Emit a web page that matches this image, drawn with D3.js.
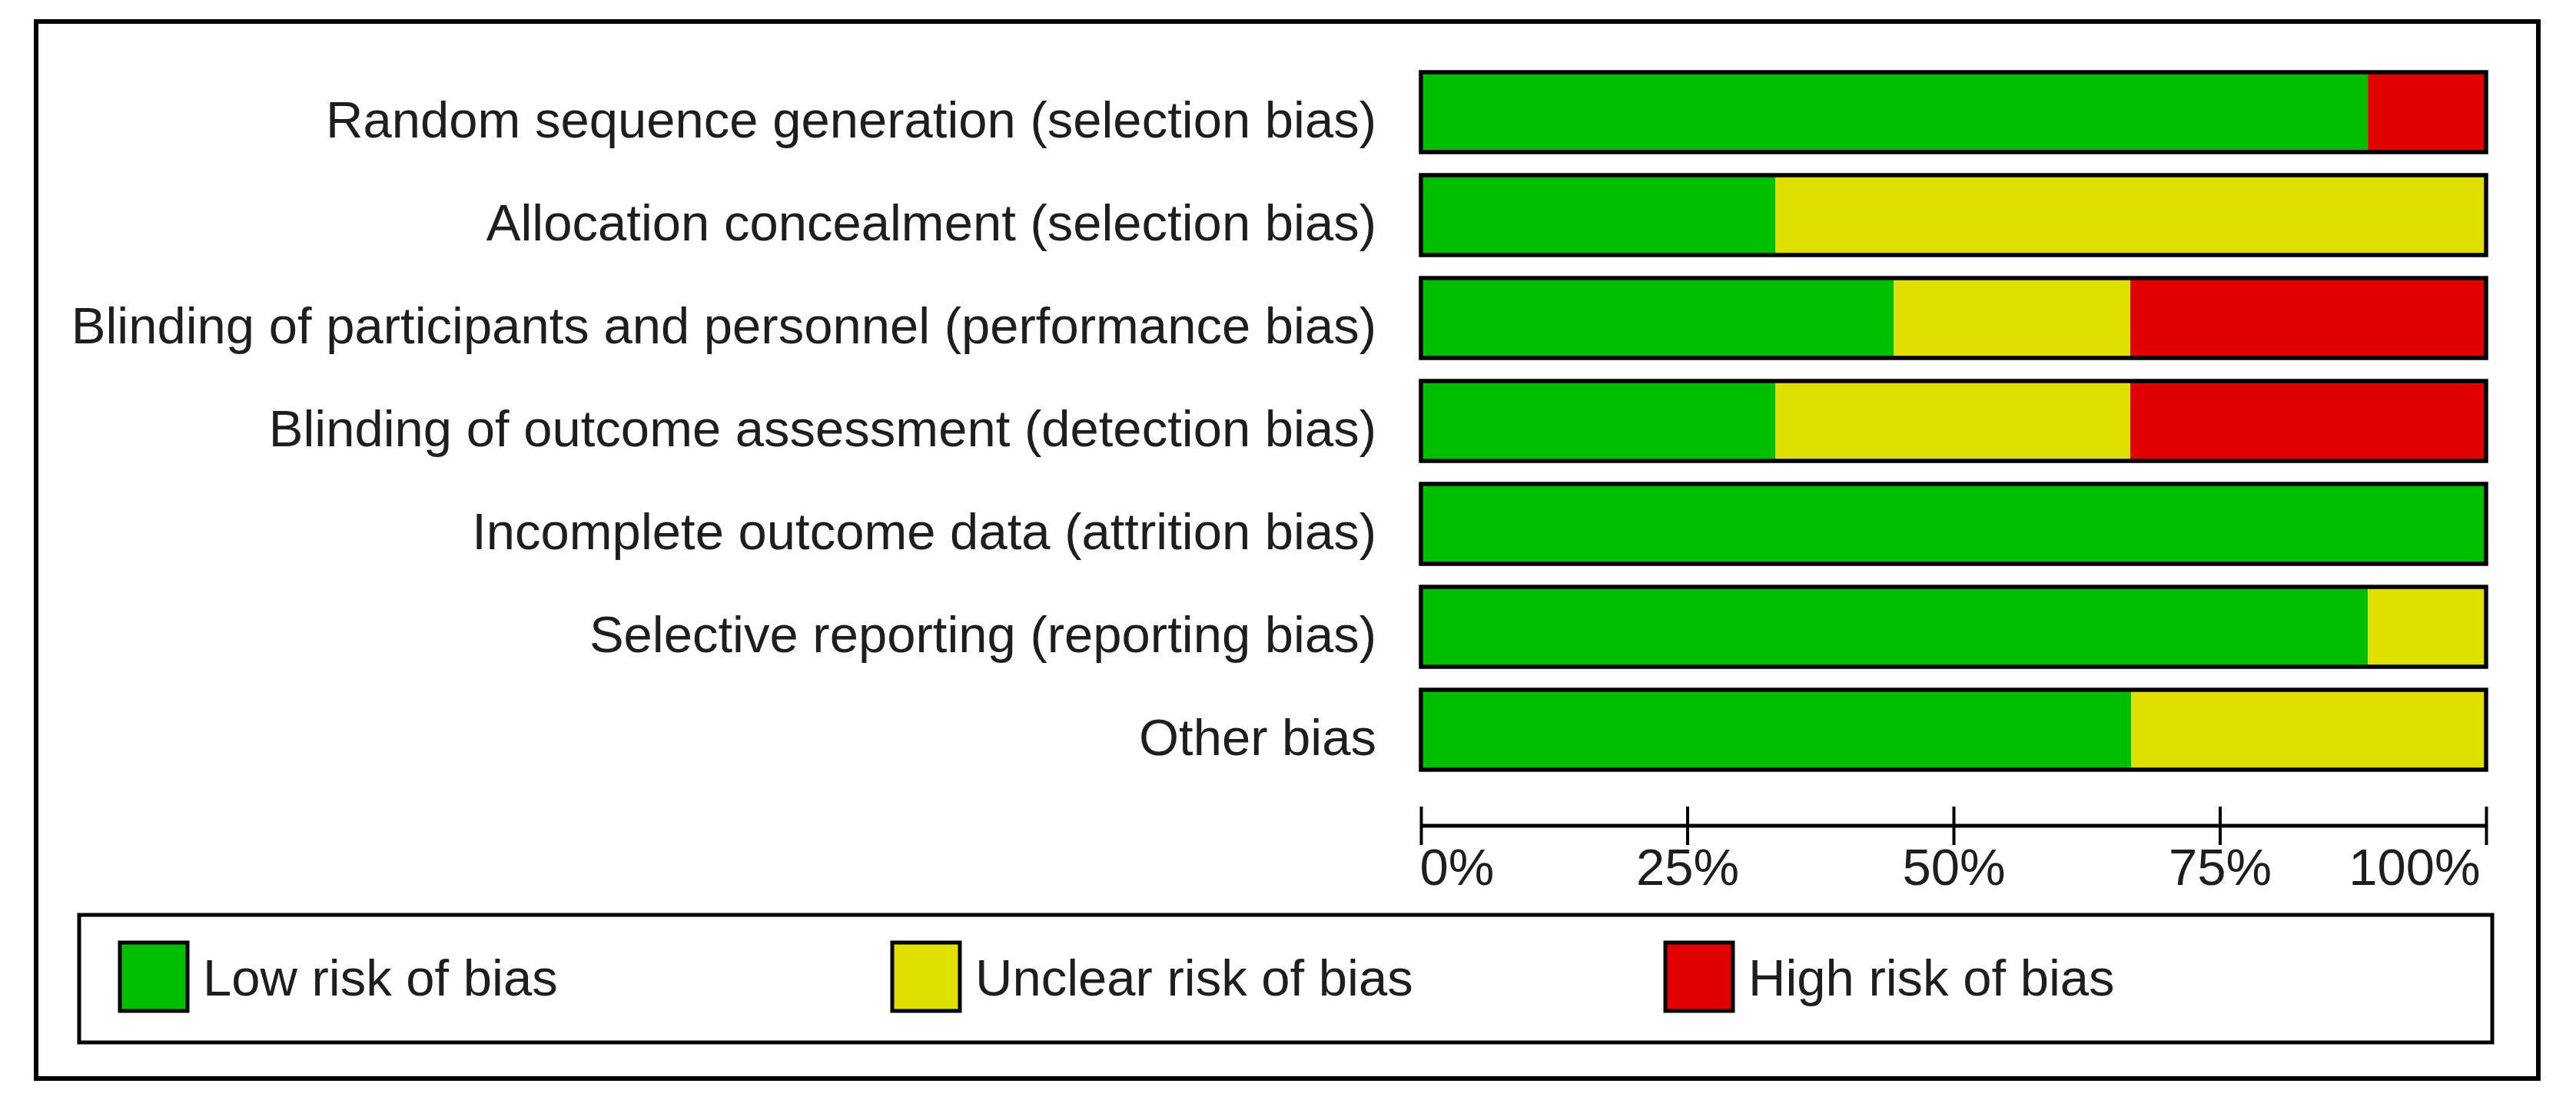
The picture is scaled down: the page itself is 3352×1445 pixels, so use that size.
<!DOCTYPE html>
<html>
<head>
<meta charset="utf-8">
<script src="https://cdn.jsdelivr.net/npm/d3@7"></script>
<style>
  html, body { margin: 0; padding: 0; background: #fff; }
  text { font-family: "Liberation Sans", Arial, sans-serif; fill: #1e1e1e; }
</style>
</head>
<body>
<svg id="viewer"></svg>
<script>
// risk of bias domains, top to bottom
let categories = [
  'Random sequence generation (selection bias)',
  'Allocation concealment (selection bias)',
  'Blinding of participants and personnel (performance bias)',
  'Blinding of outcome assessment (detection bias)',
  'Incomplete outcome data (attrition bias)',
  'Selective reporting (reporting bias)',
  'Other bias'
];
// percent of studies
let lowRisk = [88.9, 33.3, 44.4, 33.3, 100, 88.9, 66.7];
let unclearRisk = [0, 66.7, 22.2, 33.3, 0, 11.1, 33.3];
let highRisk = [11.1, 0, 33.3, 33.3, 0, 0, 0];

let seriesKeys = ['low', 'unclear', 'high'];
let legendLabels = ['Low risk of bias', 'Unclear risk of bias', 'High risk of bias'];
let tickValues = [0, 25, 50, 75, 100];
let tickLabels = ['0%', '25%', '50%', '75%', '100%'];

let W = 3352, H = 1445;
let colors = {low: '#00bf00', unclear: '#e0e000', high: '#e00000'};
let fontSize = 67;

let svg = d3.select('#viewer')
  .attr('width', W)
  .attr('height', H);

// outer frame
svg.append('rect')
  .attr('x', 47).attr('y', 28)
  .attr('width', 3303 - 47).attr('height', 1404 - 28)
  .attr('fill', 'none').attr('stroke', '#000').attr('stroke-width', 6);

let x = d3.scaleLinear()
  .domain([0, 100])
  .range([1849, 3235]);

let y = d3.scaleBand()
  .domain(categories)
  .range([79, 79 + 938])
  .paddingInner(0.224)
  .paddingOuter(0.112);

let table = categories.map(function (c, i) {
  return {cat: c, low: lowRisk[i], unclear: unclearRisk[i], high: highRisk[i]};
});
let stacked = d3.stack().keys(seriesKeys)(table);

let bars = svg.append('g');
stacked.forEach(function (layer) {
  bars.selectAll('rect.' + layer.key)
    .data(layer)
    .enter().append('rect')
    .attr('class', layer.key)
    .attr('x', d => x(d[0]))
    .attr('y', d => y(d.data.cat))
    .attr('width', d => x(d[1]) - x(d[0]))
    .attr('height', y.bandwidth())
    .attr('fill', colors[layer.key]);
});

// black outline round each bar
bars.selectAll('rect.outline')
  .data(table)
  .enter().append('rect')
  .attr('class', 'outline')
  .attr('x', x(0))
  .attr('y', d => y(d.cat))
  .attr('width', x(100) - x(0))
  .attr('height', y.bandwidth())
  .attr('fill', 'none')
  .attr('stroke', '#000')
  .attr('stroke-width', 5.5);

// row labels
svg.append('g').selectAll('text')
  .data(categories)
  .enter().append('text')
  .attr('x', 1791)
  .attr('y', d => y(d) + y.bandwidth() / 2 + 33)
  .attr('text-anchor', 'end')
  .attr('font-size', fontSize)
  .text(d => d);

// axis: ticks cross the line
let axisY = 1075;
let xAxis = d3.axisBottom(x)
  .tickValues(tickValues)
  .tickSize(0)
  .tickFormat((d, i) => tickLabels[i]);

let axisG = svg.append('g')
  .attr('transform', 'translate(0,' + axisY + ')')
  .call(xAxis);
axisG.select('.domain').remove();
axisG.append('line')
  .attr('x1', x(0)).attr('x2', x(100))
  .attr('stroke', '#000').attr('stroke-width', 5);
axisG.selectAll('.tick line')
  .attr('y1', -25).attr('y2', 25)
  .attr('stroke', '#000').attr('stroke-width', 4);
axisG.selectAll('.tick text')
  .attr('y', 77)
  .attr('dy', 0)
  .attr('font-size', fontSize)
  .attr('font-family', '"Liberation Sans", Arial, sans-serif')
  .attr('fill', '#1e1e1e')
  .attr('text-anchor', (d, i) => i == 0 ? 'start' : (i == tickValues.length - 1 ? 'end' : 'middle'))
  .attr('dx', (d, i) => i == 0 ? -2 : (i == tickValues.length - 1 ? -8 : 0));

// legend
let legendBox = {x: 103, y: 1191, w: 3243 - 103, h: 1357 - 1191};
svg.append('rect')
  .attr('x', legendBox.x).attr('y', legendBox.y)
  .attr('width', legendBox.w).attr('height', legendBox.h)
  .attr('fill', 'none').attr('stroke', '#000').attr('stroke-width', 5);

let legendX = [156, 1161, 2167];
let legend = svg.append('g').selectAll('g')
  .data(seriesKeys)
  .enter().append('g')
  .attr('transform', (d, i) => 'translate(' + legendX[i] + ',1227)');
legend.append('rect')
  .attr('width', 88).attr('height', 89)
  .attr('fill', d => colors[d])
  .attr('stroke', '#000').attr('stroke-width', 5);
legend.append('text')
  .attr('x', 108)
  .attr('y', 69)
  .attr('font-size', fontSize)
  .text((d, i) => legendLabels[i]);
</script>
</body>
</html>
